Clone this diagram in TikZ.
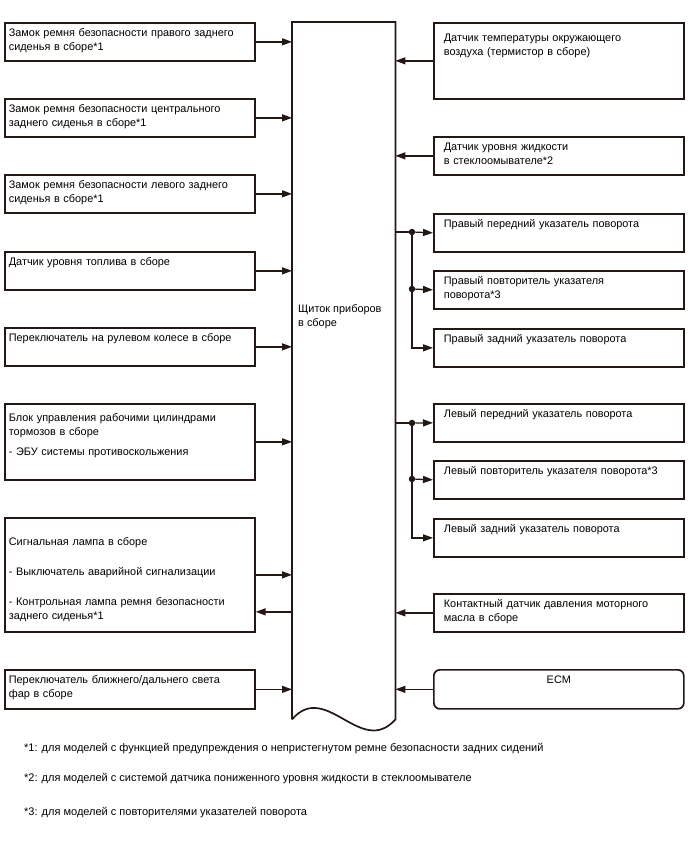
\documentclass[tikz,border=0pt]{standalone}
\usepackage{fontspec}
\setmainfont{Liberation Sans}
\usetikzlibrary{arrows.meta}
\definecolor{wire}{RGB}{35,24,21}
\begin{document}
\begin{tikzpicture}[x=1pt,y=-1pt,
		lbox/.style={draw=wire, line width=1.7pt, anchor=north west, text width=242pt, inner xsep=4pt, inner ysep=0pt, align=left, text height=14pt, font=\fontsize{10.9}{14}\selectfont},
		rbox/.style={lbox, text width=230pt, inner xsep=10pt},
		sig/.style={draw=wire, line width=1.3pt, -{Triangle[length=10pt,width=7pt]}},
		junction/.style={circle, fill=wire, inner sep=0pt, minimum size=6.5pt},
		note/.style={anchor=base west, inner sep=0pt, font=\fontsize{11}{13}\selectfont}
		]
		\useasboundingbox (0,0) rectangle (688,852);
		% instrument panel
		\node [minimum width=103pt, minimum height=697pt, inner sep=0pt, anchor=north west] (panel) at (292,22) {};
		\draw [wire, line width=1.7pt] (panel.south west) -- (panel.north west) -- (panel.north east) -- (panel.south east)
			.. controls (361,758) and (326,680) .. (panel.south west);
		\node [anchor=west, inner sep=0pt, align=left, font=\fontsize{10.9}{14}\selectfont] (paneltext) at (298,317) {Щиток приборов\\в сборе};
		% left side
		\node [lbox, text depth=24pt] (seatR) at (4,22) {Замок ремня безопасности правого заднего\\сиденья в сборе*1};
		\node [lbox, text depth=24pt] (seatC) at (4,98) {Замок ремня безопасности центрального\\заднего сиденья в сборе*1};
		\node [lbox, text depth=24pt] (seatL) at (4,174) {Замок ремня безопасности левого заднего\\сиденья в сборе*1};
		\node [lbox, text depth=24pt] (fuel) at (4,251) {Датчик уровня топлива в сборе};
		\node [lbox, text depth=24pt] (wheel) at (4,327) {Переключатель на рулевом колесе в сборе};
		\node [lbox, text height=18pt, text depth=58pt] (brake) at (4,403) {Блок управления рабочими цилиндрами\\тормозов в сборе\\[6pt]- ЭБУ системы противоскольжения};
		\node [lbox, text height=28pt, text depth=86pt] (lamp) at (4,517) {Сигнальная лампа в сборе\\[16pt]- Выключатель аварийной сигнализации\\[16pt]- Контрольная лампа ремня безопасности\\заднего сиденья*1};
		\node [lbox, text depth=25pt] (beam) at (4,669) {Переключатель ближнего/дальнего света\\фар в сборе};
		% right side
		\node [rbox, text height=19pt, text depth=57pt] (temp) at (433,22) {Датчик температуры окружающего\\воздуха (термистор в сборе)};
		\node [rbox, text depth=24pt] (washer) at (433,136) {Датчик уровня жидкости\\в стеклоомывателе*2};
		\node [rbox, text depth=24pt] (rfront) at (433,213) {Правый передний указатель поворота};
		\node [rbox, text depth=24pt] (rrep) at (433,270) {Правый повторитель указателя\\поворота*3};
		\node [rbox, text depth=24pt] (rrear) at (433,328) {Правый задний указатель поворота};
		\node [rbox, text depth=24pt] (lfront) at (433,403) {Левый передний указатель поворота};
		\node [rbox, text depth=24pt] (lrep) at (433,460) {Левый повторитель указателя поворота*3};
		\node [rbox, text depth=24pt] (lrear) at (433,518) {Левый задний указатель поворота};
		\node [rbox, text depth=24pt] (oil) at (433,593) {Контактный датчик давления моторного\\масла в сборе};
		\node [rbox, text depth=25pt, align=center, rounded corners=6pt] (ecm) at (433,669) {ECM};
		% inputs
		\foreach \src in {seatR,seatC,seatL,fuel,wheel,brake,beam}
			\draw [sig] (\src.east) -- (\src.east -| panel.west);
		\draw [sig] (lamp.east) -- (lamp.east -| panel.west);
		\draw [sig] ([yshift=-37pt]lamp.east -| panel.west) -- ([yshift=-37pt]lamp.east);
		\foreach \src in {temp,washer,oil,ecm}
			\draw [sig] (\src.west) -- (\src.west -| panel.east);
		% turn signals
		\node [junction] (rj1) at (412,232) {};
		\node [junction] (rj2) at (412,289) {};
		\node [junction] (lj1) at (412,423) {};
		\node [junction] (lj2) at (412,479) {};
		\draw [wire, line width=1.3pt] (rj1 -| panel.east) -- (rj1);
		\draw [sig] (rj1) -- (rfront.west);
		\draw [sig] (rj2) -- (rrep.west);
		\draw [sig] (rj1) |- (rrear.west);
		\draw [wire, line width=1.3pt] (lj1 -| panel.east) -- (lj1);
		\draw [sig] (lj1) -- (lfront.west);
		\draw [sig] (lj2) -- (lrep.west);
		\draw [sig] (lj1) |- (lrear.west);
		% footnotes
		\node [note] (fn1) at (24,751) {*1: для моделей с функцией предупреждения о непристегнутом ремне безопасности задних сидений};
		\node [note] (fn2) at (24,781) {*2: для моделей с системой датчика пониженного уровня жидкости в стеклоомывателе};
		\node [note] (fn3) at (24,815) {*3: для моделей с повторителями указателей поворота};
	\end{tikzpicture}
\end{document}
